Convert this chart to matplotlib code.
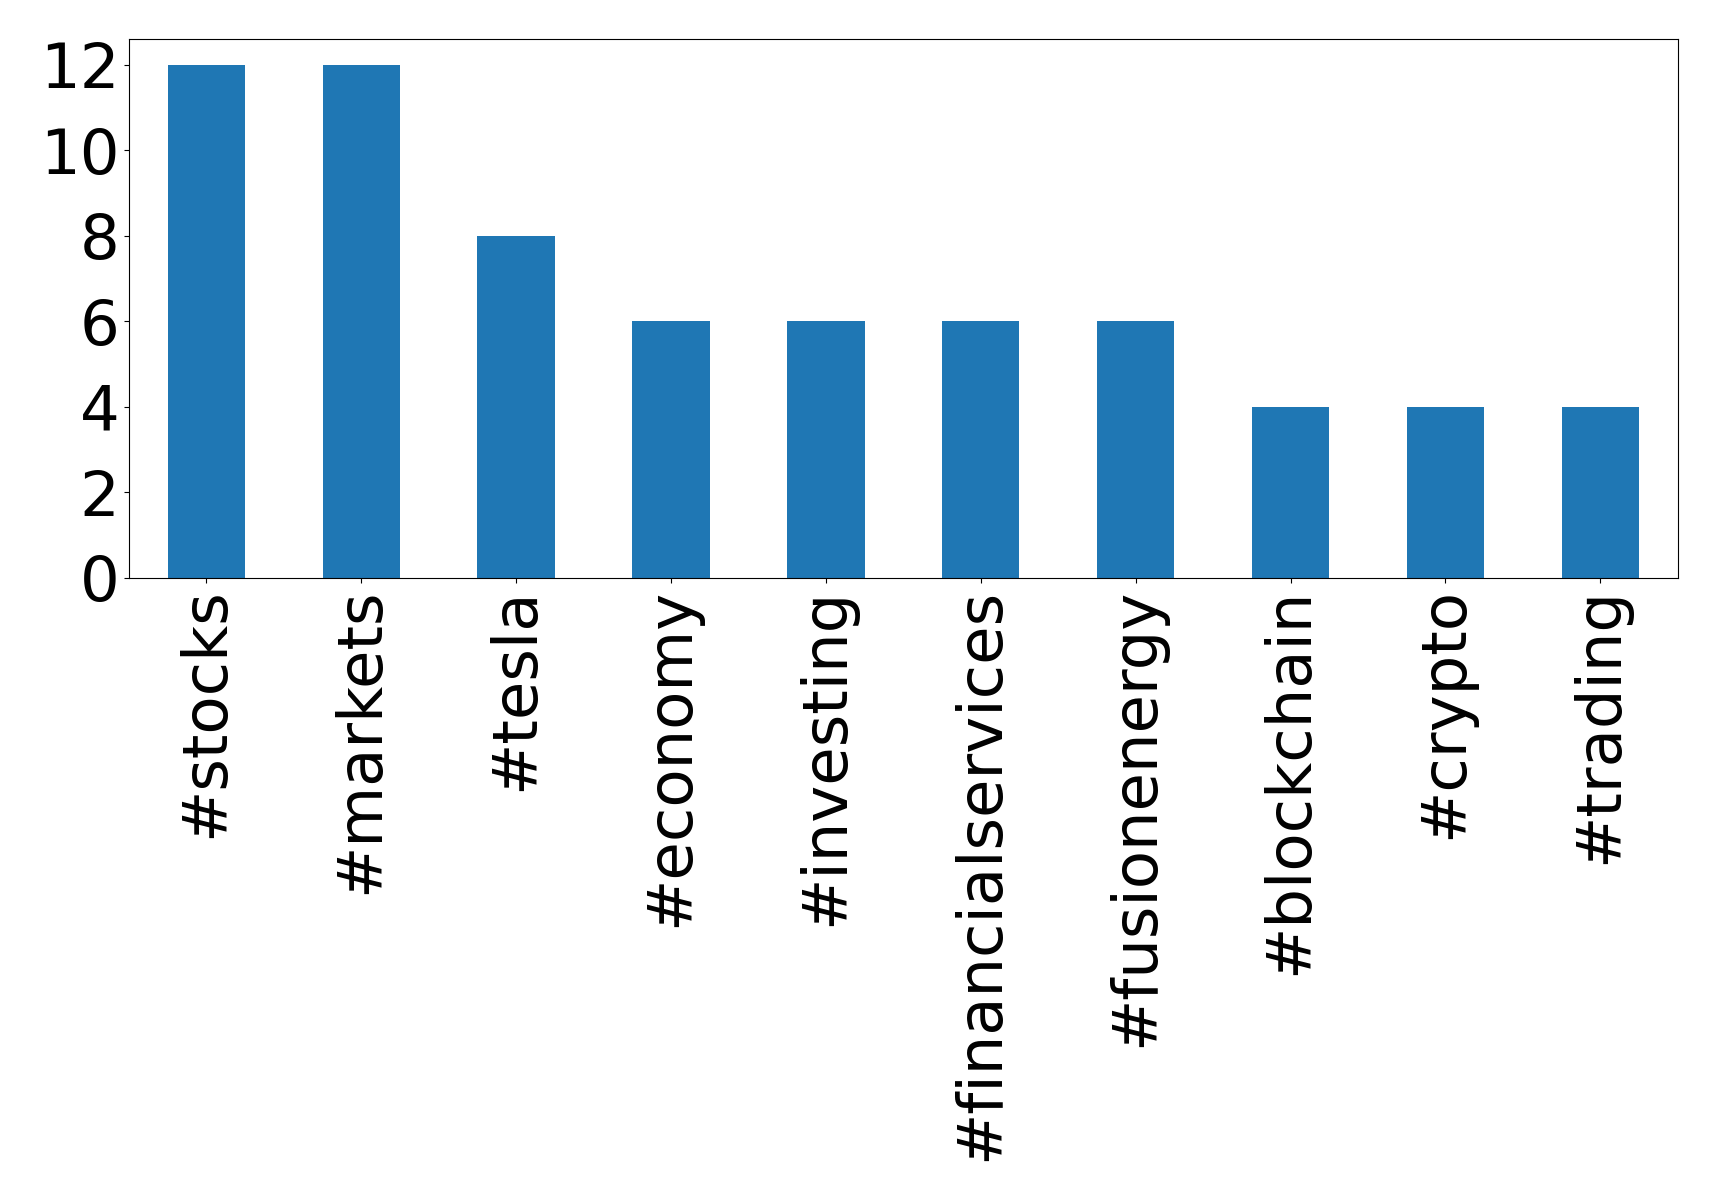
import numpy as np
import matplotlib
matplotlib.use("Agg")
import matplotlib.pyplot as plt

# Hashtag counts
hashtags = ["#stocks", "#markets", "#tesla", "#economy", "#investing",
            "#financialservices", "#fusionenergy", "#blockchain", "#crypto", "#trading"]
counts = [12, 12, 8, 6, 6, 6, 6, 4, 4, 4]
yticks = [0, 2, 4, 6, 8, 10, 12]

fig = plt.figure(figsize=(17.19, 12.01), dpi=100)
ax = fig.add_axes([0.075, 0.519, 0.901, 0.4485])

x = np.arange(len(hashtags))
ax.bar(x, counts, width=0.5, color="#1f77b4")
ax.set_xlim(-0.5, len(hashtags) - 0.5)
ax.set_ylim(0, max(counts) * 1.05)
ax.set_xticks(x)
ax.set_xticklabels(hashtags, rotation=90)
ax.set_yticks(yticks)
ax.tick_params(axis="both", labelsize=45)

fig.savefig("out.png", dpi=100)
